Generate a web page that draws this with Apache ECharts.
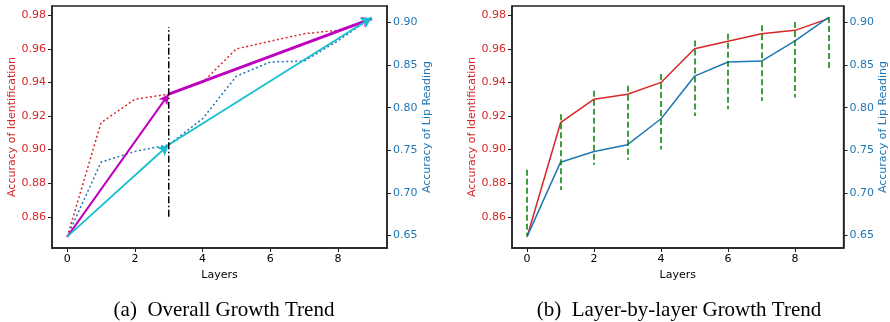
<!DOCTYPE html>
<html>
<head>
  <meta charset="UTF-8">
  <script src="https://cdn.jsdelivr.net/npm/echarts@6/dist/echarts.min.js"></script>
  <style>
    body { margin: 0; padding: 0; background: #ffffff; }
    #chart { width: 890px; height: 322px; }
  </style>
</head>
<body>
  <div id="chart"></div>
  <script>
    // values
    const layers = [0, 1, 2, 3, 4, 5, 6, 7, 8, 9];
    const identAcc = [0.848, 0.916, 0.930, 0.933, 0.940, 0.960, 0.9645, 0.969, 0.971, 0.978];
    const lipAcc = [0.6485, 0.736, 0.7486, 0.7565, 0.787, 0.837, 0.8536, 0.8547, 0.8785, 0.906];
    const rangeTop = [0.888, 0.921, 0.935, 0.938, 0.945, 0.965, 0.969, 0.974, 0.976, 0.979];
    const rangeBottom = [0.849, 0.876, 0.891, 0.894, 0.900, 0.920, 0.924, 0.929, 0.931, 0.948];
    const splitLayer = 3;
    const splitSpan = [0.86, 0.973];

    const xTicks = [0, 2, 4, 6, 8];
    const identTicks = [0.86, 0.88, 0.90, 0.92, 0.94, 0.96, 0.98];
    const lipTicks = [0.65, 0.70, 0.75, 0.80, 0.85, 0.90];
    const captions = ['(a)  Overall Growth Trend', '(b)  Layer-by-layer Growth Trend'];

    const RED = '#d62728';
    const BLUE = '#1f77b4';
    const MAGENTA = '#bf00bf';
    const CYAN = '#17becf';
    const SPINE = '#222';
    const FONT = 'DejaVu Sans';

    const chart = echarts.init(document.getElementById('chart'), null, { renderer: 'canvas' });

    const pairs = (ys) => layers.map((x, i) => [x, ys[i]]);

    function xAxis(gridIndex) {
      return {
        type: 'value', gridIndex, min: -0.45, max: 9.45,
        name: 'Layers', nameLocation: 'middle', nameGap: 20,
        nameTextStyle: { color: '#000', fontFamily: FONT, fontSize: 11 },
        axisLine: { show: true, onZero: false, lineStyle: { color: SPINE, width: 1.5 } },
        axisTick: { show: true, length: 4, customValues: xTicks, lineStyle: { color: SPINE } },
        axisLabel: { customValues: xTicks, margin: 6, color: '#000', fontFamily: FONT, fontSize: 11 },
        splitLine: { show: false }
      };
    }

    function yAxis(gridIndex, side) {
      const left = side === 'left';
      const ticks = left ? identTicks : lipTicks;
      const color = left ? RED : BLUE;
      return {
        type: 'value', gridIndex, position: side,
        min: left ? 0.8414 : 0.6352, max: left ? 0.9855 : 0.9194,
        name: left ? 'Accuracy of Identification' : 'Accuracy of Lip Reading',
        nameLocation: 'middle', nameGap: 33, nameRotate: 90,
        nameTextStyle: { color, fontFamily: FONT, fontSize: 11 },
        axisLine: { show: true, onZero: false, lineStyle: { color: SPINE, width: 1.5 } },
        axisTick: { show: true, length: 4, customValues: ticks, lineStyle: { color: SPINE } },
        axisLabel: { customValues: ticks, margin: 6, color, fontFamily: FONT, fontSize: 11,
          formatter: v => v.toFixed(2) },
        splitLine: { show: false }
      };
    }

    function arrow(ys, from, to, color, width) {
      return [
        { coord: [layers[from], ys[from]], lineStyle: { color, width, type: 'solid' } },
        { coord: [layers[to], ys[to]] }
      ];
    }

    const markBase = {
      silent: true, animation: false,
      label: { show: false }, emphasis: { disabled: true }
    };

    const option = {
      animation: false,
      grid: [
        { left: 52, top: 6, width: 335, height: 242, show: true, borderColor: SPINE, borderWidth: 1.5 },
        { left: 512, top: 6, width: 334, height: 242, show: true, borderColor: SPINE, borderWidth: 1.5 }
      ],
      xAxis: [xAxis(0), xAxis(1)],
      yAxis: [yAxis(0, 'left'), yAxis(0, 'right'), yAxis(1, 'left'), yAxis(1, 'right')],
      series: [
        // (a) overall growth trend
        {
          type: 'line', xAxisIndex: 0, yAxisIndex: 0, data: pairs(identAcc), symbol: 'none', z: 2,
          lineStyle: { color: RED, width: 1.5, type: [2, 2.5] },
          markLine: Object.assign({}, markBase, {
            symbol: ['none', 'arrow'], symbolSize: [8, 10],
            data: [
              arrow(identAcc, 0, splitLayer, MAGENTA, 2),
              arrow(identAcc, splitLayer, 9, MAGENTA, 3)
            ]
          })
        },
        {
          type: 'line', xAxisIndex: 0, yAxisIndex: 1, data: pairs(lipAcc), symbol: 'none', z: 2,
          lineStyle: { color: BLUE, width: 1.5, type: [2, 2.5] },
          markLine: Object.assign({}, markBase, {
            symbol: ['none', 'arrow'], symbolSize: [9, 11],
            data: [
              arrow(lipAcc, 0, splitLayer, CYAN, 1.8),
              arrow(lipAcc, splitLayer, 9, CYAN, 1.8)
            ]
          })
        },
        {
          type: 'line', xAxisIndex: 0, yAxisIndex: 0, symbol: 'none', z: 5,
          data: [[splitLayer, splitSpan[0]], [splitLayer, splitSpan[1]]],
          lineStyle: { color: '#000', width: 1.5, type: [7, 2.5, 1.5, 2.5] }
        },
        // (b) layer-by-layer growth trend
        {
          type: 'line', xAxisIndex: 1, yAxisIndex: 2, data: pairs(identAcc), symbol: 'none',
          lineStyle: { color: RED, width: 1.5 },
          markLine: Object.assign({}, markBase, {
            symbol: ['none', 'none'],
            lineStyle: { color: '#008000', width: 1.5, type: [6, 3] },
            data: layers.map((x, i) => [{ coord: [x, rangeTop[i]] }, { coord: [x, rangeBottom[i]] }])
          })
        },
        {
          type: 'line', xAxisIndex: 1, yAxisIndex: 3, data: pairs(lipAcc), symbol: 'none',
          lineStyle: { color: BLUE, width: 1.5 }
        }
      ],
      graphic: [
        { type: 'text', x: 224, y: 310, style: { text: captions[0], fill: '#000',
          font: '21px "Liberation Serif"', align: 'center', verticalAlign: 'middle' } },
        { type: 'text', x: 679, y: 310, style: { text: captions[1], fill: '#000',
          font: '21px "Liberation Serif"', align: 'center', verticalAlign: 'middle' } }
      ]
    };

    chart.setOption(option);
  </script>
</body>
</html>
